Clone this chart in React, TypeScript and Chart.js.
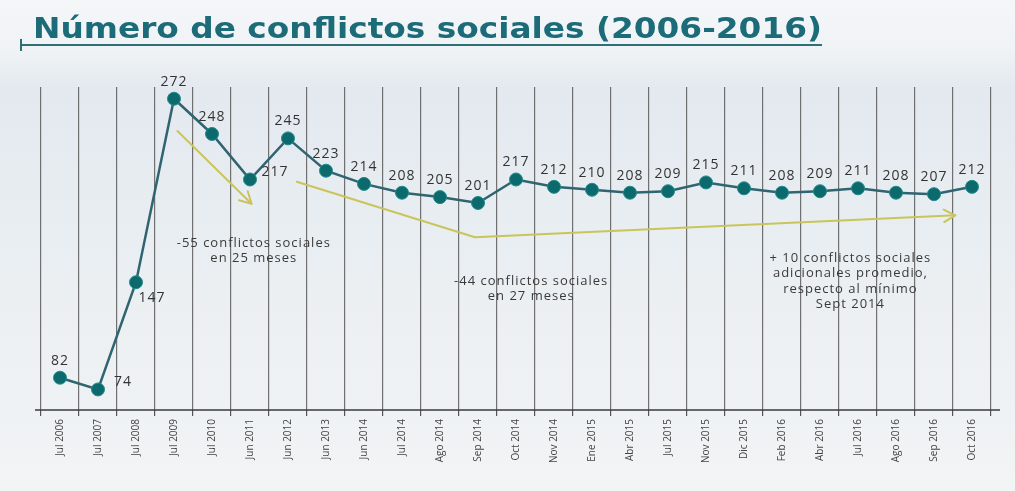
import React, { useEffect, useRef } from "react";
import { Chart, registerables } from "chart.js";

Chart.register(...registerables);

const TITLE = "Número de conflictos sociales (2006-2016)";

const categories = [
  "Jul 2006", "Jul 2007", "Jul 2008", "Jul 2009", "Jul 2010", "Jun 2011", "Jun 2012",
  "Jun 2013", "Jun 2014", "Jul 2014", "Ago 2014", "Sep 2014", "Oct 2014", "Nov 2014",
  "Ene 2015", "Abr 2015", "Jul 2015", "Nov 2015", "Dic 2015", "Feb 2016", "Abr 2016",
  "Jul 2016", "Ago 2016", "Sep 2016", "Oct 2016",
];

const conflictos = [
  82, 74, 147, 272, 248, 217, 245, 223, 214, 208, 205, 201, 217, 212,
  210, 208, 209, 215, 211, 208, 209, 211, 208, 207, 212,
];

const annotationTexts = [
  ["-55 conflictos sociales", "en 25 meses"],
  ["-44 conflictos sociales", "en 27 meses"],
  ["+ 10 conflictos sociales", "adicionales promedio,", "respecto al mínimo", "Sept 2014"],
];

// label placement per point (style only)
const labelPlacement: Record<number, "right" | "belowRight"> = { 1: "right", 2: "belowRight", 5: "right" };

const titlePlugin = {
  id: "titleDraw",
  afterDraw(chart: any) {
    const ctx = chart.ctx;
    ctx.save();
    ctx.font = "bold 28px 'DejaVu Sans', Verdana, sans-serif";
    ctx.fillStyle = "#1c6b78";
    ctx.textAlign = "left";
    ctx.textBaseline = "alphabetic";
    const w = ctx.measureText(TITLE).width;
    const target = 789;
    ctx.translate(33, 38);
    ctx.scale(target / w, 1);
    ctx.fillText(TITLE, 0, 0);
    ctx.restore();
    ctx.save();
    ctx.fillStyle = "#2f6f78";
    ctx.fillRect(20, 44, 802, 2);
    ctx.fillRect(20, 39, 2, 12);
    ctx.restore();
  },
};

const overlayPlugin = {
  id: "overlay",
  afterDatasetsDraw(chart: any) {
    const ctx = chart.ctx;
    const x = chart.scales.x;
    const y = chart.scales.y;
    const area = chart.chartArea;
    const P = (i: number, v: number) => [x.getPixelForValue(i), y.getPixelForValue(v)];

    // axis line
    ctx.save();
    ctx.strokeStyle = "#3a3a3a";
    ctx.lineWidth = 1.5;
    ctx.beginPath();
    ctx.moveTo(area.left - 6, area.bottom);
    ctx.lineTo(area.right + 9, area.bottom);
    ctx.stroke();

    // arrows
    ctx.strokeStyle = "#c9c55a";
    ctx.lineWidth = 2;
    ctx.lineCap = "round";
    ctx.lineJoin = "round";
    const arrowHead = (from: number[], to: number[]) => {
      const ang = Math.atan2(to[1] - from[1], to[0] - from[0]);
      const len = 13;
      ctx.beginPath();
      ctx.moveTo(to[0] - len * Math.cos(ang - 0.5), to[1] - len * Math.sin(ang - 0.5));
      ctx.lineTo(to[0], to[1]);
      ctx.lineTo(to[0] - len * Math.cos(ang + 0.5), to[1] - len * Math.sin(ang + 0.5));
      ctx.stroke();
    };
    const a1s = P(3.09, 250), a1e = P(5.04, 200.5);
    ctx.beginPath();
    ctx.moveTo(a1s[0], a1s[1]);
    ctx.lineTo(a1e[0], a1e[1]);
    ctx.stroke();
    arrowHead(a1s, a1e);

    const a2s = P(6.23, 215.5), a2m = P(10.92, 177.7), a2e = P(23.56, 192.6);
    ctx.beginPath();
    ctx.moveTo(a2s[0], a2s[1]);
    ctx.lineTo(a2m[0], a2m[1]);
    ctx.lineTo(a2e[0], a2e[1]);
    ctx.stroke();
    arrowHead(a2m, a2e);

    // annotation texts
    ctx.fillStyle = "#3a3a3a";
    ctx.font = "13px 'Open Sans', sans-serif";
    (ctx as any).letterSpacing = "1px";
    ctx.textAlign = "center";
    ctx.textBaseline = "middle";
    const anchors = [P(5.1, 173.6), P(12.4, 147.8), P(20.8, 163.4)];
    annotationTexts.forEach((lines, k) => {
      lines.forEach((t, j) => {
        ctx.fillText(t, anchors[k][0], anchors[k][1] + j * 15.5);
      });
    });

    // data labels
    ctx.font = "14px 'Open Sans', sans-serif";
    (ctx as any).letterSpacing = "1px";
    ctx.fillStyle = "#333";
    const meta = chart.getDatasetMeta(0);
    meta.data.forEach((pt: any, i: number) => {
      const v = conflictos[i];
      const pl = labelPlacement[i];
      let lx = pt.x, ly = pt.y - 17;
      if (pl === "right") { lx = pt.x + 25; ly = pt.y - 7; }
      if (pl === "belowRight") { lx = pt.x + 16; ly = pt.y + 16; }
      ctx.fillText(String(v), lx, ly);
    });
    (ctx as any).letterSpacing = "0px";
    ctx.restore();
  },
};

export default function App() {
  const ref = useRef<HTMLCanvasElement>(null);
  useEffect(() => {
    document.body.style.margin = "0";
    const chart = new Chart(ref.current!, {
      type: "line",
      data: {
        labels: categories,
        datasets: [
          {
            data: conflictos,
            borderColor: "#2f6470",
            borderWidth: 2.5,
            pointRadius: 6.5,
            pointBackgroundColor: "#0c6a6d",
            pointBorderColor: "#1f8a8c",
            pointBorderWidth: 1,
            tension: 0,
          },
        ],
      },
      options: {
        animation: false,
        responsive: false,
        maintainAspectRatio: false,
        layout: { padding: { left: 41, right: 24, top: 87, bottom: 0 } },
        plugins: { legend: { display: false }, tooltip: { enabled: false } },
        scales: {
          x: {
            offset: true,
            grid: {
              offset: true,
              color: "#707070",
              lineWidth: 1.2,
              drawTicks: true,
              tickLength: 6,
              tickColor: "#555",
            },
            border: { display: false },
            ticks: {
              minRotation: 90,
              maxRotation: 90,
              autoSkip: false,
              color: "#444",
              padding: 3,
              font: { size: 10, family: "'Open Sans', sans-serif" },
            },
            afterFit: (s: any) => {
              s.height = 81;
            },
          },
          y: {
            display: false,
            min: 60,
            max: 280,
          },
        },
      },
      plugins: [overlayPlugin, titlePlugin],
    });
    return () => chart.destroy();
  }, []);

  return (
    <div
      style={{
        position: "fixed",
        left: 0,
        top: 0,
        width: 1015,
        height: 491,
        background: "linear-gradient(180deg, #f4f6f8 0%, #f0f3f6 10%, #e3e9ef 18%, #e9eef2 50%, #f2f4f5 100%)",
        overflow: "hidden",
      }}
    >
      <canvas ref={ref} width={1015} height={491} style={{ position: "absolute", left: 0, top: 0 }} />
    </div>
  );
}
